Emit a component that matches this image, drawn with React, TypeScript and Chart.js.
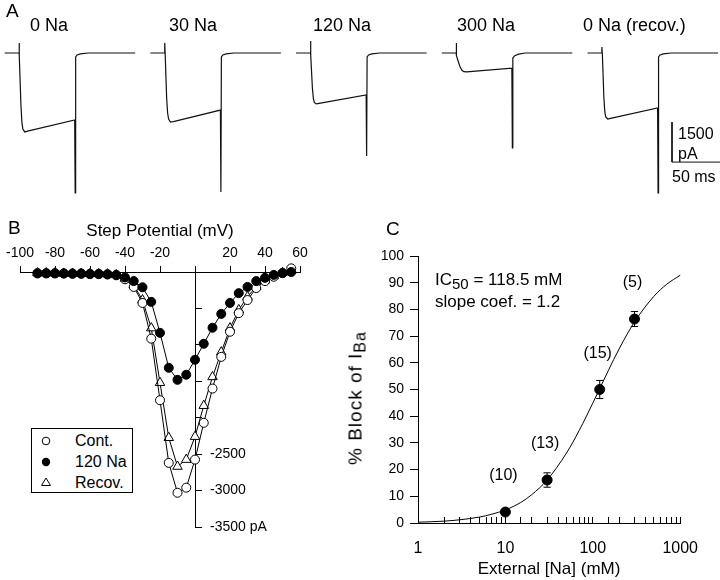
import React, { useEffect, useRef } from 'react';
import { Chart, registerables } from 'chart.js';

Chart.register(...registerables);

const FONT = "'Liberation Sans', Arial, Helvetica, sans-serif";

// ---------- Panel A: current sweeps (time in ms from step onset, current in pA) ----------
const sweepLabels = ['0 Na', '30 Na', '120 Na', '300 Na', '0 Na (recov.)'];
const sweep0Na: number[][] = [[-15, 0], [0, 0], [0, 380], [0.5, -80], [2, -1950], [3, -2590], [4, -2850], [6, -2960], [9, -2930], [58, -2510], [58.5, -5250], [59, -150], [60.5, -75], [64, -35], [72, 0], [121, 0]];
const sweep30Na: number[][] = [[-15, 0], [0, 0], [0, 380], [0.5, -80], [2, -1700], [3, -2250], [4, -2480], [6, -2590], [9, -2570], [58, -2140], [58.5, -5210], [59, -150], [60.5, -75], [64, -35], [72, 0], [121, 0]];
const sweep120Na: number[][] = [[-15, 0], [0, 0], [0, 450], [0.5, -80], [2, -1300], [3, -1700], [4, -1850], [6, -1910], [9, -1890], [58, -1575], [58.5, -3860], [59, -150], [60.5, -75], [64, -35], [72, 0], [121, 0]];
const sweep300Na: number[][] = [[-15, 0], [0, 0], [0, 375], [0.5, -100], [2, -300], [4, -520], [6, -650], [8, -700], [11, -710], [58, -570], [58.5, -3560], [59, -190], [61, -100], [65, -40], [72, 0], [121, 0]];
const sweepRecov: number[][] = [[-15, 0], [0, 0], [0, 225], [0.5, -80], [2, -1650], [3, -2200], [4, -2400], [6, -2475], [9, -2450], [58, -2060], [58.5, -5250], [59, -150], [60.5, -75], [64, -35], [72, 0], [121, 0]];
const sweeps = [sweep0Na, sweep30Na, sweep120Na, sweep300Na, sweepRecov];
const scaleBarPA = 1500;
const scaleBarMs = 50;

// ---------- Panel B: I-V relation ----------
const stepPotentials = [-90, -85, -80, -75, -70, -65, -60, -55, -50, -45, -40, -35, -30, -25, -20, -15, -10, -5, 0, 5, 10, 15, 20, 25, 30, 35, 40, 45, 50, 55];
const iControl = [-15, -15, -15, -20, -20, -20, -25, -25, -30, -40, -100, -205, -425, -915, -1760, -2620, -3030, -2960, -2575, -2070, -1600, -1165, -820, -565, -385, -220, -125, -65, -15, 50];
const i120Na = [-20, -20, -20, -20, -25, -25, -30, -30, -35, -45, -75, -125, -210, -410, -835, -1315, -1480, -1410, -1205, -985, -765, -575, -425, -290, -205, -125, -80, -40, -15, 0];
const iRecov = [-15, -15, -15, -20, -20, -20, -25, -25, -30, -40, -90, -180, -385, -770, -1520, -2275, -2670, -2575, -2260, -1835, -1440, -1100, -770, -520, -340, -200, -110, -55, -10, 20];
const ivLabelledTicks = [-2500, -3000, -3500];

// ---------- Panel C: dose-response ----------
const naConc = [10, 30, 120, 300];
const blockPct = [4.1, 16.1, 50, 76.4];
const blockSem = [1, 2.7, 3.4, 2.8];
const nCells = ['(10)', '(13)', '(15)', '(5)'];
const fitConc = [1, 2, 3, 5, 7, 10, 15, 20, 30, 50, 70, 100, 150, 200, 300, 500, 700, 1000];
const fitBlock = [0.3, 0.7, 1.2, 2.2, 3.3, 4.9, 7.7, 10.6, 16.1, 26.2, 34.7, 44.9, 57, 65.2, 75.3, 84.9, 89.4, 92.8];
const concTickLabels = [1, 10, 100, 1000];

Chart.defaults.font.family = FONT;
Chart.defaults.color = '#000';

const txt = (extra: React.CSSProperties): React.CSSProperties => ({
  position: 'absolute',
  fontFamily: FONT,
  lineHeight: 1,
  color: '#000',
  whiteSpace: 'nowrap',
  ...extra,
});

export default function App() {
  const refA = useRef<HTMLCanvasElement>(null);
  const refB = useRef<HTMLCanvasElement>(null);
  const refC = useRef<HTMLCanvasElement>(null);

  useEffect(() => {
    const charts: Chart[] = [];

    // ---- Panel A ----
    const sweepSpacing = 151.8;
    const firstOnset = 19.8;
    const barX = 700;
    const barTop = -2590;
    const dsA: any[] = sweeps.map((sw, k) => ({
      data: sw.map(([t, i]) => ({ x: firstOnset + k * sweepSpacing + t, y: i })),
      borderColor: '#111',
      borderWidth: 1.2,
      pointRadius: 0,
      tension: 0,
      clip: false,
    }));
    dsA.push({
      data: [
        { x: barX, y: barTop },
        { x: barX, y: barTop - scaleBarPA },
        { x: barX + scaleBarMs, y: barTop - scaleBarPA },
      ],
      borderColor: '#111',
      borderWidth: 1,
      pointRadius: 0,
      clip: false,
    });
    charts.push(
      new Chart(refA.current!, {
        type: 'line',
        data: { datasets: dsA },
        options: {
          responsive: false,
          animation: false,
          events: [],
          layout: { padding: 0 },
          plugins: { legend: { display: false }, tooltip: { enabled: false } },
          scales: {
            x: { type: 'linear', display: false, min: 0, max: 750 },
            y: { type: 'linear', display: false, min: -5512, max: 1988 },
          },
        } as any,
      })
    );

    // ---- Panel B ----
    const mk = (vals: number[]) => stepPotentials.map((v, i) => ({ x: v, y: vals[i] }));
    charts.push(
      new Chart(refB.current!, {
        type: 'line',
        data: {
          datasets: [
            {
              label: '120 Na',
              data: mk(i120Na),
              borderColor: '#000',
              borderWidth: 1,
              pointStyle: 'circle',
              pointRadius: 4.5,
              pointBackgroundColor: '#000',
              pointBorderColor: '#000',
              clip: false,
            },
            {
              label: 'Cont.',
              data: mk(iControl),
              borderColor: '#000',
              borderWidth: 1,
              pointStyle: 'circle',
              pointRadius: 4.5,
              pointBackgroundColor: '#fff',
              pointBorderColor: '#000',
              pointBorderWidth: 1,
              clip: false,
            },
            {
              label: 'Recov.',
              data: mk(iRecov),
              borderColor: '#000',
              borderWidth: 1,
              pointStyle: 'triangle',
              pointRadius: 5.5,
              pointBackgroundColor: '#fff',
              pointBorderColor: '#000',
              pointBorderWidth: 1,
              clip: false,
            },
          ] as any,
        },
        options: {
          responsive: false,
          animation: false,
          events: [],
          layout: { padding: { left: 20, right: 30, top: 0, bottom: 13 } },
          plugins: { legend: { display: false }, tooltip: { enabled: false } },
          scales: {
            x: {
              type: 'linear',
              position: 'top',
              min: -100,
              max: 60,
              afterFit: (s: any) => {
                s.height = 67;
              },
              ticks: {
                stepSize: 20,
                autoSkip: false,
                maxRotation: 0,
                padding: 4,
                font: { size: 14 },
                color: '#000',
                callback: (v: any) => (v === 0 ? '' : String(v)),
              },
              grid: { drawOnChartArea: false, tickLength: 6, color: '#000' },
              border: { color: '#000', width: 1 },
              title: {
                display: true,
                text: 'Step Potential (mV)',
                font: { size: 17 },
                color: '#000',
                padding: { top: 16, bottom: 0 },
              },
            },
            y: {
              type: 'linear',
              position: { x: 0 },
              min: -3500,
              max: 0,
              afterFit: (s: any) => {
                s.paddingTop = 0;
                s.paddingBottom = 0;
              },
              ticks: { display: false, stepSize: 500 },
              grid: { drawOnChartArea: false, tickLength: -7, color: '#000' },
              border: { color: '#000', width: 1 },
            },
            y2: {
              type: 'linear',
              position: 'left',
              min: -3500,
              max: 0,
              afterFit: (s: any) => {
                s.width = 0;
                s.paddingTop = 0;
                s.paddingBottom = 0;
                s.paddingLeft = 0;
                s.paddingRight = 0;
              },
              ticks: {
                stepSize: 500,
                mirror: true,
                crossAlign: 'near',
                padding: 190,
                font: { size: 14 },
                color: '#000',
                callback: (v: any) =>
                  ivLabelledTicks.includes(v) ? (v === -3500 ? `${v} pA` : String(v)) : '',
              },
              grid: { display: false },
              border: { display: false },
            },
          },
        } as any,
      })
    );

    // ---- Panel C ----
    const capFactor = 1.1;
    const errData: any[] = [];
    naConc.forEach((c, i) => {
      const lo = blockPct[i] - blockSem[i];
      const hi = blockPct[i] + blockSem[i];
      errData.push({ x: c, y: lo }, { x: c, y: hi }, { x: c, y: null });
      errData.push({ x: c / capFactor, y: hi }, { x: c * capFactor, y: hi }, { x: c, y: null });
      errData.push({ x: c / capFactor, y: lo }, { x: c * capFactor, y: lo }, { x: c, y: null });
    });
    const nLabelPlugin = {
      id: 'nLabels',
      afterDatasetsDraw(chart: any) {
        const { ctx } = chart;
        const xs = chart.scales.x;
        const ys = chart.scales.y;
        ctx.save();
        ctx.font = `16px ${FONT}`;
        ctx.fillStyle = '#000';
        ctx.textAlign = 'center';
        ctx.textBaseline = 'middle';
        naConc.forEach((c, i) => {
          ctx.fillText(nCells[i], xs.getPixelForValue(c) - 2, ys.getPixelForValue(blockPct[i]) - 36);
        });
        ctx.restore();
      },
    };
    charts.push(
      new Chart(refC.current!, {
        type: 'line',
        data: {
          datasets: [
            {
              data: naConc.map((c, i) => ({ x: c, y: blockPct[i] })),
              showLine: false,
              pointRadius: 5,
              pointBackgroundColor: '#000',
              pointBorderColor: '#000',
              clip: false,
            },
            {
              data: errData,
              borderColor: '#000',
              borderWidth: 1,
              pointRadius: 0,
              spanGaps: false,
              clip: false,
            },
            {
              data: fitConc.map((c, i) => ({ x: c, y: fitBlock[i] })),
              borderColor: '#000',
              borderWidth: 1,
              pointRadius: 0,
              cubicInterpolationMode: 'monotone',
              clip: false,
            },
          ] as any,
        },
        options: {
          responsive: false,
          animation: false,
          events: [],
          layout: { padding: { left: 0, right: 34, top: 51, bottom: 0 } },
          plugins: { legend: { display: false }, tooltip: { enabled: false } },
          scales: {
            x: {
              type: 'logarithmic',
              position: 'bottom',
              min: 1,
              max: 1000,
              afterFit: (s: any) => {
                s.height = 57;
              },
              ticks: {
                autoSkip: false,
                maxRotation: 0,
                padding: 22,
                font: { size: 16 },
                color: '#000',
                callback: (v: any) =>
                  concTickLabels.some((t) => Math.abs(t - Number(v)) < 1e-6) ? String(Math.round(Number(v))) : '',
              },
              grid: { drawOnChartArea: false, tickLength: -6, color: '#000' },
              border: { color: '#000', width: 1 },
              title: {
                display: true,
                text: 'External [Na] (mM)',
                font: { size: 17 },
                color: '#000',
                padding: { top: 0, bottom: 0 },
              },
            },
            y: {
              type: 'linear',
              position: 'left',
              min: 0,
              max: 100,
              afterFit: (s: any) => {
                s.width = 88;
              },
              ticks: { stepSize: 10, padding: 6, font: { size: 14 }, color: '#000' },
              grid: { drawOnChartArea: false, tickLength: 8, color: '#000' },
              border: { color: '#000', width: 1 },
            },
          },
        } as any,
        plugins: [nLabelPlugin],
      })
    );

    return () => charts.forEach((c) => c.destroy());
  }, []);

  const sweepLabelLeft = [30, 169, 313, 457, 583];

  return (
    <div style={{ position: 'fixed', left: 0, top: 0, width: 720, height: 580, background: '#fff', overflow: 'hidden' }}>
      <canvas ref={refA} width={720} height={200} style={{ position: 'absolute', left: 0, top: 0 }} />
      <canvas ref={refB} width={330} height={335} style={{ position: 'absolute', left: 0, top: 205 }} />
      <canvas ref={refC} width={390} height={375} style={{ position: 'absolute', left: 330, top: 205 }} />

      {/* Panel A annotations */}
      <div style={txt({ left: 6, top: 1, fontSize: 19 })}>A</div>
      {sweepLabels.map((s, i) => (
        <div key={s} style={txt({ left: sweepLabelLeft[i], top: 16, fontSize: 18 })}>
          {s}
        </div>
      ))}
      <div style={txt({ left: 678, top: 126, fontSize: 16 })}>{scaleBarPA}</div>
      <div style={txt({ left: 678, top: 146, fontSize: 16 })}>pA</div>
      <div style={txt({ left: 672, top: 169, fontSize: 16 })}>{scaleBarMs} ms</div>

      {/* Panel B annotations */}
      <div style={txt({ left: 8, top: 218, fontSize: 19 })}>B</div>
      <div
        style={{
          position: 'absolute',
          left: 31,
          top: 428,
          width: 102,
          height: 65,
          boxSizing: 'border-box',
          border: '1px solid #000',
          background: '#fff',
        }}
      >
        <svg width={12} height={12} style={{ position: 'absolute', left: 8, top: 6 }}>
          <circle cx={6} cy={6} r={3.8} fill="#fff" stroke="#000" strokeWidth={1} />
        </svg>
        <svg width={12} height={12} style={{ position: 'absolute', left: 8, top: 27 }}>
          <circle cx={6} cy={6} r={4.2} fill="#000" />
        </svg>
        <svg width={12} height={12} style={{ position: 'absolute', left: 8, top: 47 }}>
          <polygon points="6,2 10.5,9.5 1.5,9.5" fill="#fff" stroke="#000" strokeWidth={1} />
        </svg>
        <div style={txt({ left: 43, top: 4, fontSize: 16 })}>Cont.</div>
        <div style={txt({ left: 43, top: 25, fontSize: 16 })}>120 Na</div>
        <div style={txt({ left: 43, top: 46, fontSize: 16 })}>Recov.</div>
      </div>

      {/* Panel C annotations */}
      <div style={txt({ left: 386, top: 219, fontSize: 19 })}>C</div>
      <div style={txt({ left: 435, top: 271, fontSize: 17 })}>
        IC<span style={{ fontSize: 15, position: 'relative', top: 4 }}>50</span> = 118.5 mM
      </div>
      <div style={txt({ left: 435, top: 293, fontSize: 17 })}>slope coef. = 1.2</div>
      <div
        style={txt({
          left: 355,
          top: 398,
          fontSize: 19,
          letterSpacing: 1,
          transform: 'translate(-50%, -50%) rotate(-90deg)',
        })}
      >
        % Block of I<span style={{ fontSize: 16, position: 'relative', top: 4 }}>Ba</span>
      </div>
    </div>
  );
}
